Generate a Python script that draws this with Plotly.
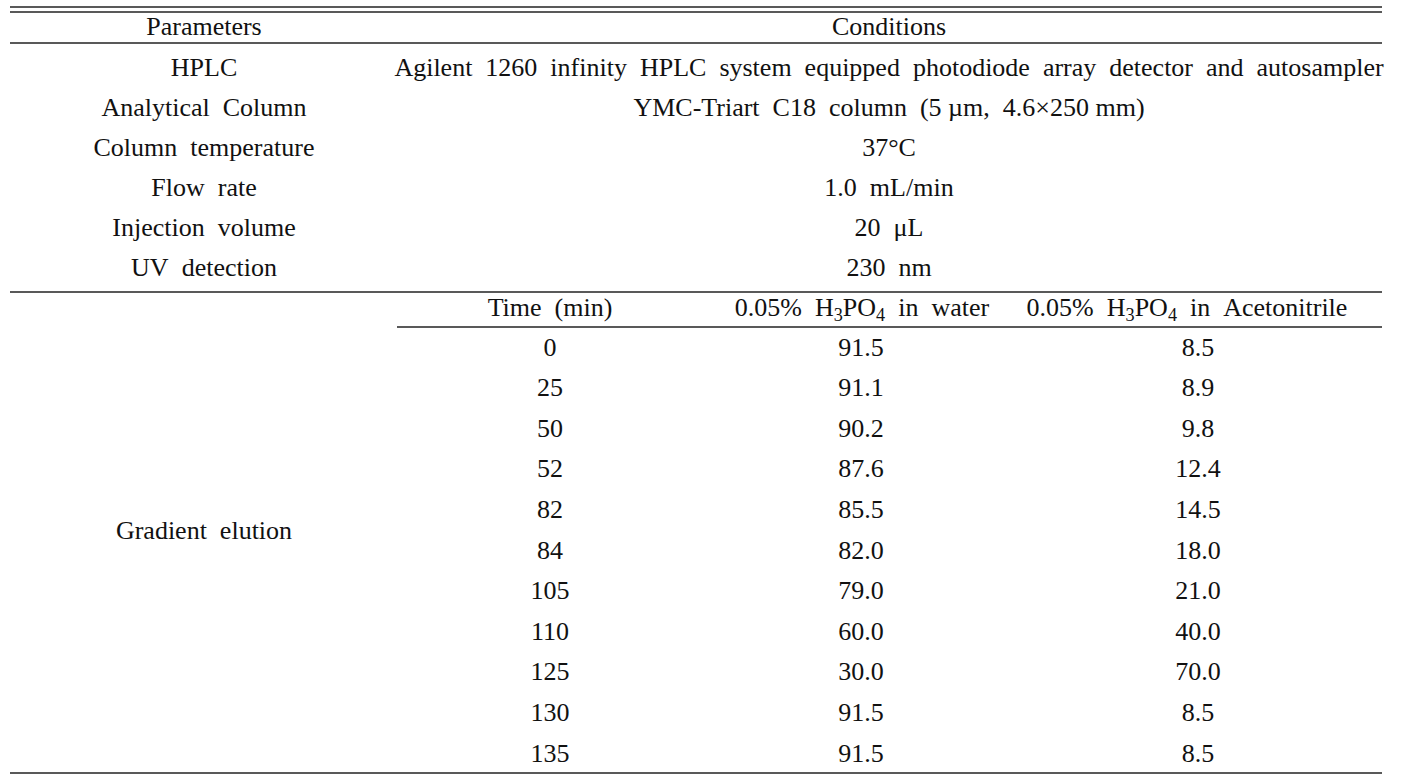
import plotly.graph_objects as go

NB = "\u00a0"
SP = NB + NB  # wide word spacing as in the reference typesetting

def w(s):
    return s.replace("  ", SP).replace(" ", NB)

# ---- data ----
header_params = "Parameters"
header_cond = "Conditions"
params = ["HPLC", "Analytical  Column", "Column  temperature", "Flow  rate",
          "Injection  volume", "UV  detection"]
conditions = [
    "Agilent  1260  infinity  HPLC  system  equipped  photodiode  array  detector  and  autosampler",
    "YMC-Triart  C18  column  (5 µm,  4.6×250 mm)",
    "37°C",
    "1.0  mL/min",
    "20  μL",
    "230  nm",
]
gradient_label = "Gradient  elution"
grad_headers = ["Time  (min)",
                "0.05%  H<sub>3</sub>PO<sub>4</sub>  in  water",
                "0.05%  H<sub>3</sub>PO<sub>4</sub>  in  Acetonitrile"]
time_min = [0, 25, 50, 52, 82, 84, 105, 110, 125, 130, 135]
water = [91.5, 91.1, 90.2, 87.6, 85.5, 82.0, 79.0, 60.0, 30.0, 91.5, 91.5]
acn = [8.5, 8.9, 9.8, 12.4, 14.5, 18.0, 21.0, 40.0, 70.0, 8.5, 8.5]

# ---- layout constants ----
W, H = 1401, 777
FONT = dict(family="Liberation Serif, Times New Roman, serif", size=26, color="#111")
X_PARAM = 204
X_COND = 889
X_TIME, X_WATER, X_ACN = 550, 861, 1198
X_WATER_H, X_ACN_H = 862, 1187
Y_HEAD = 28
Y_TOP0, DY_TOP = 69, 40
Y_GHEAD = 309
Y_G0, DY_G = 349, 40.6
L, R = 10, 1382
LINE = dict(color="#222", width=1.6)

fig = go.Figure()

def add_text(xs, ys, texts):
    fig.add_trace(go.Scatter(x=xs, y=ys, text=[w(t) for t in texts], mode="text",
                             textposition="middle center", textfont=FONT,
                             hoverinfo="skip", showlegend=False))

# headers
add_text([X_PARAM, X_COND], [Y_HEAD, Y_HEAD], [header_params, header_cond])
# parameter rows
ys_top = [Y_TOP0 + DY_TOP * i for i in range(len(params))]
add_text([X_PARAM] * len(params), ys_top, params)
add_text([X_COND] * len(conditions), ys_top, conditions)
# gradient block
ys_g = [Y_G0 + DY_G * i for i in range(len(time_min))]
add_text([X_PARAM], [(Y_GHEAD + ys_g[-1]) / 2], [gradient_label])
add_text([X_TIME, X_WATER_H, X_ACN_H], [Y_GHEAD] * 3, grad_headers)
add_text([X_TIME] * len(time_min), ys_g, [str(t) for t in time_min])
add_text([X_WATER] * len(water), ys_g, [f"{v:.1f}" for v in water])
add_text([X_ACN] * len(acn), ys_g, [f"{v:.1f}" for v in acn])

# rules
for y0, x0 in [(7, L), (12, L), (43, L), (292, L), (327, 397), (773, L)]:
    fig.add_shape(type="line", x0=x0, x1=R, y0=y0, y1=y0, line=LINE,
                  xref="x", yref="y")

fig.update_layout(
    width=W, height=H, margin=dict(l=0, r=0, t=0, b=0),
    paper_bgcolor="white", plot_bgcolor="white",
    xaxis=dict(range=[0, W], visible=False, fixedrange=True),
    yaxis=dict(range=[H, 0], visible=False, fixedrange=True),
)

fig.write_html("out.html", config={"displayModeBar": False},
               post_script="document.body.style.margin='0px';")
